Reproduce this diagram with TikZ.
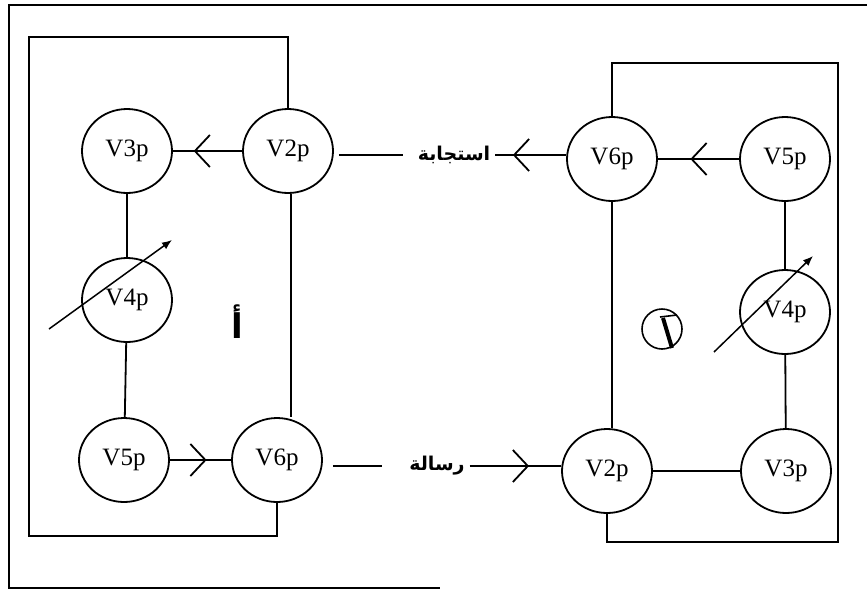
\documentclass[tikz,border=0pt]{standalone}
\usepackage{fontspec}
\setmainfont{Liberation Serif}
\newfontfamily\arabicfont[Script=Arabic]{DejaVu Sans}
\TeXXeTstate=1
\usetikzlibrary{shapes.geometric,arrows.meta,decorations.markings}

\begin{document}
\begin{tikzpicture}[x=1pt, y=-1pt, line width=1.8pt,
    vnode/.style={draw, ellipse, minimum width=90pt, minimum height=84pt, inner sep=0pt,
        font=\fontsize{25}{27}\selectfont},
    msg/.style={font=\arabicfont\bfseries\fontsize{19}{22}\selectfont, inner sep=4pt},
    midbarb/.style={postaction={decorate, decoration={markings,
        mark=at position #1 with {\arrow{Straight Barb[length=15pt, width=32pt, line width=1.8pt]}}}}},
    turn/.style={-{Latex[length=10pt, width=8pt]}, line width=1.5pt}]
    \useasboundingbox (0,0) rectangle (867,590);

    % outer frame (open on the right)
    \draw (867,5) -- (9,5) -- (9,588) -- (440,588);

    % Draw vertices (left side)
    \node[vnode] (V2pL) at (288,151) {V2p};
    \node[vnode] (V3pL) at (127,151) {V3p};
    \node[vnode] (V4pL) at (127,300) {V4p};
    \node[vnode] (V5pL) at (124,460) {V5p};
    \node[vnode] (V6pL) at (277,460) {V6p};

    % Draw vertices (right side)
    \node[vnode] (V6pR) at (612,159) {V6p};
    \node[vnode] (V5pR) at (785,159) {V5p};
    \node[vnode] (V4pR) at (785,312) {V4p};
    \node[vnode] (V3pR) at (786,471) {V3p};
    \node[vnode] (V2pR) at (607,471) {V2p};

    % labels
    \node[font=\arabicfont\bfseries\fontsize{34}{36}\selectfont] (labA) at (237,322) {\beginR أ\endR};
    \node[msg] (resp) at (454,155) {\beginR استجابة\endR};
    \node[msg] (mess) at (437,466) {\beginR رسالة\endR};

    % left box
    \draw (V2pL.north) |- (29,37) -- (29,536) -| (V6pL.south);
    \draw[midbarb=0.7] (V2pL) -- (V3pL);
    \draw (V3pL) -- (V4pL);
    \draw (V4pL) -- (V5pL);
    \draw[midbarb=0.6] (V5pL) -- (V6pL);
    \draw ([xshift=3pt]V2pL.south) -- ([xshift=3pt]V2pL.south |- V6pL.north);

    % right box
    \draw (V6pR.north) |- (838,63) -- (838,542) -| (V2pR.south);
    \draw[midbarb=0.6] (V5pR) -- (V6pR);
    \draw (V5pR) -- (V4pR);
    \draw (V4pR) -- (V3pR);
    \draw (V3pR) -- (V2pR);
    \draw (V6pR.south) -- (V2pR.north -| V6pR.south);

    % messages between the two sides
    \draw[shorten <=5pt, shorten >=10pt] (V2pL.east |- resp) -- (resp.west);
    \draw[midbarb=0.75] (V6pR.west |- resp) -- (resp.east);
    \draw[shorten <=10pt, shorten >=22pt] (V6pL.east |- mess) -- (mess.west);
    \draw[midbarb=0.65] (mess.east) -- (V2pR.west |- mess);

    % variable elements
    \coordinate (tl1) at (49,329);
    \coordinate (tl2) at (172,240);
    \coordinate (tr1) at (714,352);
    \coordinate (tr2) at (813,256);
    \draw[turn] (tl1) -- (tl2);
    \draw[turn] (tr1) -- (tr2);

    % circled mark on the right side
    \node[draw, circle, minimum size=40pt, line width=1.6pt] (labB) at (662,329) {};
    \draw[line width=4pt] (663,318) -- (672,348);
    \draw[line width=1.6pt] (660,317) -- (677,315);
\end{tikzpicture}
\end{document}
